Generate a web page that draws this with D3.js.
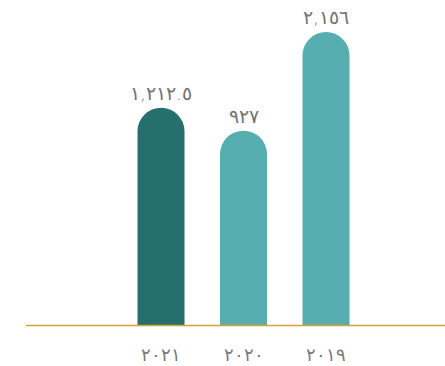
<!DOCTYPE html>
<html>
<head>
<meta charset="utf-8">
<script src="https://cdn.jsdelivr.net/npm/d3@7"></script>
<style>
  html, body { margin: 0; padding: 0; background: #fff; }
  svg { display: block; }
  text { font-family: "DejaVu Sans", "Noto Sans", sans-serif; }
</style>
</head>
<body>
<svg id="chart" width="445" height="366"></svg>
<script>
// Yearly totals, right-to-left reading order (latest year on the left)
const years = ["٢٠٢١", "٢٠٢٠", "٢٠١٩"];
const values = [1212.5, 927, 2156];
const barColors = ["#256f6e", "#56aeb1", "#56aeb1"];

// Western digits -> Arabic-Indic digits
const arabicDigits = ["٠","١","٢","٣","٤","٥","٦","٧","٨","٩"];
const toArabic = s => s.replace(/[0-9]/g, d => arabicDigits[+d]);
const fmt = v => toArabic(d3.format(",")(v));

const svg = d3.select("#chart");
const baseY = 325.5;

const x = d3.scaleBand()
  .domain(years)
  .range([137.5, 349.5])
  .paddingInner(0.43)
  .paddingOuter(0);

const y = d3.scaleLinear()
  .domain([-1500, 2156])
  .range([baseY, 32]);

const data = years.map((yr, i) => ({ year: yr, value: values[i], color: barColors[i] }));

// Bar with a fully rounded top
function barPath(d) {
  const x0 = x(d.year), w = x.bandwidth(), r = w / 2;
  const top = y(d.value);
  return `M${x0},${baseY} L${x0},${top + r} A${r},${r} 0 0 1 ${x0 + w},${top + r} L${x0 + w},${baseY} Z`;
}

svg.append("g").selectAll("path")
  .data(data)
  .join("path")
  .attr("d", barPath)
  .attr("fill", d => d.color);

// Value labels above bars
svg.append("g").selectAll("text")
  .data(data)
  .join("text")
  .attr("x", d => x(d.year) + x.bandwidth() / 2)
  .attr("y", d => y(d.value) - 8)
  .attr("text-anchor", "middle")
  .attr("font-size", 19)
  .attr("font-weight", 300)
  .attr("fill", "#737373")
  .text(d => fmt(d.value));

// Baseline
svg.append("line")
  .attr("x1", 26).attr("x2", 445)
  .attr("y1", baseY).attr("y2", baseY)
  .attr("stroke", "#d9a032")
  .attr("stroke-width", 1.5);

// Category labels
const axis = d3.axisBottom(x).tickSize(0).tickPadding(0);
const gAxis = svg.append("g").attr("transform", `translate(0,${baseY})`).call(axis);
gAxis.select(".domain").remove();
gAxis.selectAll("text")
  .attr("dy", 0)
  .attr("y", 35)
  .attr("font-size", 18)
  .attr("font-weight", 300)
  .attr("font-family", "\"DejaVu Sans\", sans-serif")
  .attr("fill", "#7a7a7a");
</script>
</body>
</html>
